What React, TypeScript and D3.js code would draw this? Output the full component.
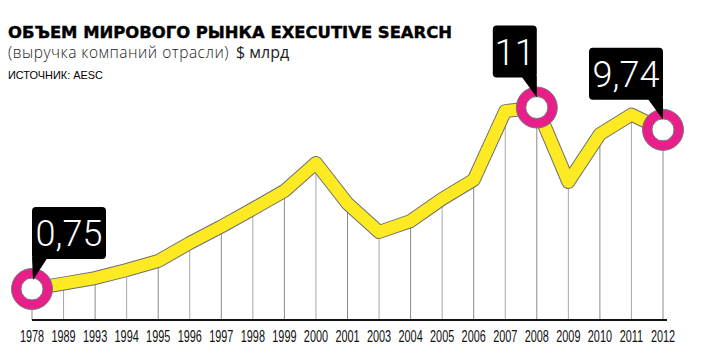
import React from 'react';
import * as d3 from 'd3';

// global executive search market, $ bn
const years = ['1978', '1989', '1993', '1994', '1995', '1996', '1997', '1998', '1999', '2000', '2001',
  '2003', '2004', '2005', '2006', '2007', '2008', '2009', '2010', '2011', '2012'];
const revenue = [0.75, 1.06, 1.37, 1.82, 2.33, 3.35, 4.28, 5.27, 6.29, 7.87, 5.58,
  3.97, 4.59, 5.84, 6.91, 10.8, 11, 6.8, 9.5, 10.6, 9.74];
const calloutYears = ['1978', '2008', '2012'];
const calloutLabels = ['0,75', '11', '9,74'];

const W = 704;
const H = 361;
const axisY = 320;

export default function App() {
  const x = d3.scalePoint<string>().domain(years).range([32, 663]);
  const y = d3.scaleLinear().domain([-1, 11.2]).range([axisY, 104]);

  const pts: [number, number][] = years.map((yr, i) => [x(yr)!, y(revenue[i])]);
  const line = d3.line<[number, number]>().x(d => d[0]).y(d => d[1]);
  const path = line(pts) || '';

  const pink = '#e81e8a';
  const yellow = '#fdea22';

  return (
    <svg width={W} height={H} style={{ position: 'absolute', left: 0, top: 0, background: '#fff' }}>
      {/* titles */}
      <text x={8} y={38} fontFamily="'DejaVu Sans', sans-serif" fontWeight="bold" fontSize={16}
        textLength={444} lengthAdjust="spacingAndGlyphs" fill="#000" stroke="#000" strokeWidth={0.4}>
        ОБЪЕМ МИРОВОГО РЫНКА EXECUTIVE SEARCH
      </text>
      <text x={8} y={58} fontFamily="'Open Sans', sans-serif" fontSize={15.5} fill="#222">
        <tspan fontWeight={300} letterSpacing={0.5}>(выручка компаний отрасли)</tspan>
        <tspan fontWeight={500} dx={7} fontSize={16}>$ млрд</tspan>
      </text>
      <text x={8} y={79} fontFamily="'Liberation Sans', Arial, sans-serif" fontSize={10.5}
        textLength={95} lengthAdjust="spacingAndGlyphs" fill="#000">
        ИСТОЧНИК: AESC
      </text>

      {/* grid lines */}
      {years.map((yr, i) => (
        <line key={yr} x1={x(yr)} x2={x(yr)} y1={axisY} y2={y(revenue[i])}
          stroke={i % 2 ? '#a8a8a8' : '#8a8a8a'} strokeWidth={1} />
      ))}
      <line x1={32} x2={667} y1={axisY} y2={axisY} stroke="#111" strokeWidth={2} />

      {/* year labels, condensed */}
      {years.map(yr => (
        <text key={yr} transform={`translate(${x(yr)},342) scale(0.68,1)`} textAnchor="middle"
          fontFamily="'Liberation Sans', Arial, sans-serif" fontSize={16} fill="#111">
          {yr}
        </text>
      ))}

      {/* the line */}
      <path d={path} fill="none" stroke="#6e6e6e" strokeWidth={14} strokeLinejoin="round" />
      <path d={path} fill="none" stroke={yellow} strokeWidth={12} strokeLinejoin="round" />

      {/* markers */}
      {calloutYears.map(yr => {
        const i = years.indexOf(yr);
        const cx = x(yr)!;
        const cy = y(revenue[i]);
        return (
          <g key={'m' + yr}>
            <circle cx={cx} cy={cy} r={20.5} fill={pink} stroke="#777" strokeWidth={1} />
            <circle cx={cx} cy={cy} r={11} fill="#fff" stroke="#777" strokeWidth={1} />
          </g>
        );
      })}

      {/* callouts */}
      {calloutYears.map((yr, k) => {
        const i = years.indexOf(yr);
        const cx = x(yr)!;
        const cy = y(revenue[i]);
        const label = calloutLabels[k];
        const bw = label.length > 2 ? 74 : 44;
        const bh = 52;
        const left = k === 0;
        const x0 = left ? cx : cx - bw;
        const bottom = cy - 30;
        const top = bottom - bh;
        const tri = left
          ? `M${x0},${bottom - 2} L${x0 + 16},${bottom - 2} L${cx + 1},${cy - 9} Z`
          : `M${x0 + bw - 16},${bottom - 2} L${x0 + bw},${bottom - 2} L${cx},${cy - 10} Z`;
        return (
          <g key={'c' + yr}>
            <rect x={x0} y={top} width={bw} height={bh} rx={4} fill="#000" />
            <path d={tri} fill="#000" />
            <text x={x0 + bw / 2} y={top + 39} textAnchor="middle" fill="#fff"
              fontFamily="Roboto, sans-serif" fontWeight={300} fontSize={36}>
              {label}
            </text>
          </g>
        );
      })}
    </svg>
  );
}
